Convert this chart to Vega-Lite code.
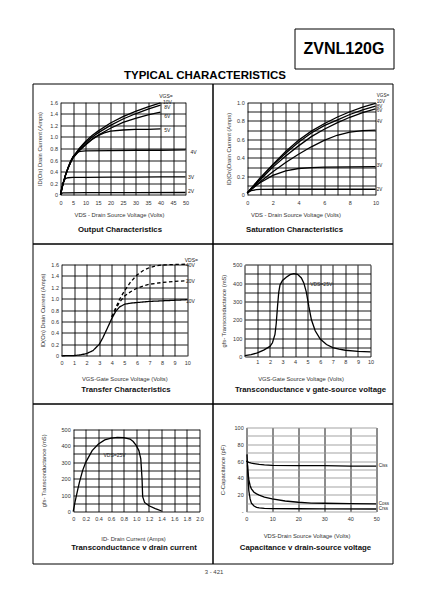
{
"$schema":"https://vega.github.io/schema/vega-lite/v6.json",
"background":"white",
"padding":{"left":31.5,"top":27.5,"right":0,"bottom":0},
"spacing":0,
"title":{"text":"3 - 421","orient":"bottom","anchor":"middle","offset":4.5,"fontSize":6,"fontWeight":"normal","color":"#444","dx":1},
"config":{
 "font":"Liberation Sans",
 "view":{"stroke":"black","strokeWidth":1},
 "concat":{"spacing":0},
 "axis":{"grid":true,"gridColor":"black","gridWidth":0.9,"gridOpacity":1,"domain":false,"ticks":false,"labelFontSize":5.5,"labelColor":"#333","labelFlush":false,"labelOverlap":false,"labelBound":false,"titleFontSize":5.8,"titleFontWeight":"normal","titleColor":"#333","labelPadding":3},
 "title":{"fontSize":7.8,"fontWeight":"bold","color":"#111"},
 "line":{"color":"black","strokeWidth":1.3}
},
"datasets":{
 "out":[
  {"vgs":"10V","vds":0,"id":0},{"vgs":"10V","vds":0.5,"id":0.1},{"vgs":"10V","vds":1,"id":0.19},{"vgs":"10V","vds":2,"id":0.34},{"vgs":"10V","vds":3,"id":0.46},{"vgs":"10V","vds":4,"id":0.56},{"vgs":"10V","vds":5,"id":0.65},{"vgs":"10V","vds":7.5,"id":0.8},{"vgs":"10V","vds":10,"id":0.92},{"vgs":"10V","vds":12.5,"id":1.02},{"vgs":"10V","vds":15,"id":1.1},{"vgs":"10V","vds":20,"id":1.24},{"vgs":"10V","vds":25,"id":1.35},{"vgs":"10V","vds":30,"id":1.44},{"vgs":"10V","vds":35,"id":1.52},{"vgs":"10V","vds":40,"id":1.59},
  {"vgs":"8V","vds":0,"id":0},{"vgs":"8V","vds":0.5,"id":0.1},{"vgs":"8V","vds":1,"id":0.19},{"vgs":"8V","vds":2,"id":0.34},{"vgs":"8V","vds":3,"id":0.46},{"vgs":"8V","vds":4,"id":0.56},{"vgs":"8V","vds":5,"id":0.65},{"vgs":"8V","vds":7.5,"id":0.79},{"vgs":"8V","vds":10,"id":0.9},{"vgs":"8V","vds":12.5,"id":0.99},{"vgs":"8V","vds":15,"id":1.07},{"vgs":"8V","vds":20,"id":1.2},{"vgs":"8V","vds":25,"id":1.31},{"vgs":"8V","vds":30,"id":1.4},{"vgs":"8V","vds":35,"id":1.48},{"vgs":"8V","vds":40,"id":1.55},
  {"vgs":"6V","vds":0,"id":0},{"vgs":"6V","vds":0.5,"id":0.1},{"vgs":"6V","vds":1,"id":0.19},{"vgs":"6V","vds":2,"id":0.34},{"vgs":"6V","vds":3,"id":0.46},{"vgs":"6V","vds":4,"id":0.56},{"vgs":"6V","vds":5,"id":0.64},{"vgs":"6V","vds":7.5,"id":0.77},{"vgs":"6V","vds":10,"id":0.87},{"vgs":"6V","vds":12.5,"id":0.96},{"vgs":"6V","vds":15,"id":1.03},{"vgs":"6V","vds":20,"id":1.15},{"vgs":"6V","vds":25,"id":1.25},{"vgs":"6V","vds":30,"id":1.32},{"vgs":"6V","vds":35,"id":1.38},{"vgs":"6V","vds":40,"id":1.43},
  {"vgs":"5V","vds":0,"id":0},{"vgs":"5V","vds":0.5,"id":0.1},{"vgs":"5V","vds":1,"id":0.19},{"vgs":"5V","vds":2,"id":0.34},{"vgs":"5V","vds":3,"id":0.46},{"vgs":"5V","vds":4,"id":0.56},{"vgs":"5V","vds":5,"id":0.64},{"vgs":"5V","vds":7.5,"id":0.76},{"vgs":"5V","vds":10,"id":0.86},{"vgs":"5V","vds":12.5,"id":0.95},{"vgs":"5V","vds":15,"id":1.02},{"vgs":"5V","vds":17.5,"id":1.07},{"vgs":"5V","vds":20,"id":1.1},{"vgs":"5V","vds":25,"id":1.12},{"vgs":"5V","vds":30,"id":1.13},{"vgs":"5V","vds":35,"id":1.13},{"vgs":"5V","vds":40,"id":1.14},
  {"vgs":"4V","vds":0,"id":0},{"vgs":"4V","vds":0.5,"id":0.1},{"vgs":"4V","vds":1,"id":0.19},{"vgs":"4V","vds":2,"id":0.34},{"vgs":"4V","vds":3,"id":0.47},{"vgs":"4V","vds":4,"id":0.58},{"vgs":"4V","vds":5,"id":0.66},{"vgs":"4V","vds":6,"id":0.71},{"vgs":"4V","vds":7,"id":0.74},{"vgs":"4V","vds":8,"id":0.75},{"vgs":"4V","vds":10,"id":0.76},{"vgs":"4V","vds":20,"id":0.765},{"vgs":"4V","vds":30,"id":0.77},{"vgs":"4V","vds":40,"id":0.77},{"vgs":"4V","vds":50,"id":0.775},
  {"vgs":"3V","vds":0,"id":0},{"vgs":"3V","vds":0.5,"id":0.12},{"vgs":"3V","vds":1,"id":0.2},{"vgs":"3V","vds":1.5,"id":0.25},{"vgs":"3V","vds":2,"id":0.28},{"vgs":"3V","vds":3,"id":0.295},{"vgs":"3V","vds":5,"id":0.3},{"vgs":"3V","vds":10,"id":0.302},{"vgs":"3V","vds":20,"id":0.304},{"vgs":"3V","vds":30,"id":0.306},{"vgs":"3V","vds":40,"id":0.308},{"vgs":"3V","vds":50,"id":0.31},
  {"vgs":"2V","vds":0,"id":0},{"vgs":"2V","vds":0.5,"id":0.025},{"vgs":"2V","vds":1,"id":0.032},{"vgs":"2V","vds":2,"id":0.034},{"vgs":"2V","vds":10,"id":0.036},{"vgs":"2V","vds":30,"id":0.038},{"vgs":"2V","vds":50,"id":0.04}
 ],
 "outLbl":[
  {"label":"VGS=","vds":39.5,"id":1.71},{"label":"10V","vds":41,"id":1.6},{"label":"8V","vds":41.5,"id":1.51},{"label":"6V","vds":41.5,"id":1.36},{"label":"5V","vds":41.5,"id":1.12},{"label":"4V","vds":52,"id":0.74},{"label":"3V","vds":51,"id":0.3},{"label":"2V","vds":51,"id":0.07}
 ],
 "sat":[
  {"vgs":"10V","vds":0,"id":0.02},{"vgs":"10V","vds":0.5,"id":0.1},{"vgs":"10V","vds":1,"id":0.18},{"vgs":"10V","vds":2,"id":0.33},{"vgs":"10V","vds":3,"id":0.47},{"vgs":"10V","vds":4,"id":0.59},{"vgs":"10V","vds":5,"id":0.69},{"vgs":"10V","vds":6,"id":0.77},{"vgs":"10V","vds":7,"id":0.84},{"vgs":"10V","vds":8,"id":0.9},{"vgs":"10V","vds":9,"id":0.95},{"vgs":"10V","vds":10,"id":0.99},
  {"vgs":"8V","vds":0,"id":0.02},{"vgs":"8V","vds":0.5,"id":0.1},{"vgs":"8V","vds":1,"id":0.18},{"vgs":"8V","vds":2,"id":0.32},{"vgs":"8V","vds":3,"id":0.45},{"vgs":"8V","vds":4,"id":0.57},{"vgs":"8V","vds":5,"id":0.67},{"vgs":"8V","vds":6,"id":0.75},{"vgs":"8V","vds":7,"id":0.81},{"vgs":"8V","vds":8,"id":0.87},{"vgs":"8V","vds":9,"id":0.92},{"vgs":"8V","vds":10,"id":0.96},
  {"vgs":"6V","vds":0,"id":0.02},{"vgs":"6V","vds":0.5,"id":0.09},{"vgs":"6V","vds":1,"id":0.16},{"vgs":"6V","vds":2,"id":0.3},{"vgs":"6V","vds":3,"id":0.42},{"vgs":"6V","vds":4,"id":0.53},{"vgs":"6V","vds":5,"id":0.63},{"vgs":"6V","vds":6,"id":0.71},{"vgs":"6V","vds":7,"id":0.78},{"vgs":"6V","vds":8,"id":0.84},{"vgs":"6V","vds":9,"id":0.89},{"vgs":"6V","vds":10,"id":0.93},
  {"vgs":"4V","vds":0,"id":0.02},{"vgs":"4V","vds":0.5,"id":0.08},{"vgs":"4V","vds":1,"id":0.14},{"vgs":"4V","vds":2,"id":0.25},{"vgs":"4V","vds":3,"id":0.35},{"vgs":"4V","vds":4,"id":0.44},{"vgs":"4V","vds":5,"id":0.52},{"vgs":"4V","vds":6,"id":0.59},{"vgs":"4V","vds":7,"id":0.645},{"vgs":"4V","vds":8,"id":0.68},{"vgs":"4V","vds":9,"id":0.695},{"vgs":"4V","vds":10,"id":0.7},
  {"vgs":"3V","vds":0,"id":0.02},{"vgs":"3V","vds":0.5,"id":0.08},{"vgs":"3V","vds":1,"id":0.13},{"vgs":"3V","vds":2,"id":0.21},{"vgs":"3V","vds":3,"id":0.26},{"vgs":"3V","vds":4,"id":0.285},{"vgs":"3V","vds":5,"id":0.295},{"vgs":"3V","vds":6,"id":0.3},{"vgs":"3V","vds":8,"id":0.303},{"vgs":"3V","vds":10,"id":0.305},
  {"vgs":"2V","vds":0,"id":0.02},{"vgs":"2V","vds":0.3,"id":0.045},{"vgs":"2V","vds":0.7,"id":0.055},{"vgs":"2V","vds":1,"id":0.058},{"vgs":"2V","vds":3,"id":0.06},{"vgs":"2V","vds":10,"id":0.06}
 ],
 "satLbl":[
  {"label":"VGS=","vds":10.1,"id":1.07},{"label":"10V","vds":10.1,"id":1.005},{"label":"8V","vds":10.1,"id":0.955},{"label":"6V","vds":10.1,"id":0.905},{"label":"4V","vds":10.1,"id":0.79},{"label":"3V","vds":10.1,"id":0.31},{"label":"2V","vds":10.1,"id":0.05}
 ],
 "trans":[
  {"vds":"10V","vgs":0,"id":0},{"vds":"10V","vgs":1,"id":0.005},{"vds":"10V","vgs":1.5,"id":0.015},{"vds":"10V","vgs":2,"id":0.04},{"vds":"10V","vgs":2.5,"id":0.09},{"vds":"10V","vgs":3,"id":0.2},{"vds":"10V","vgs":3.3,"id":0.32},{"vds":"10V","vgs":3.6,"id":0.46},{"vds":"10V","vgs":4,"id":0.65},{"vds":"10V","vgs":4.3,"id":0.77},{"vds":"10V","vgs":4.6,"id":0.85},{"vds":"10V","vgs":5,"id":0.9},{"vds":"10V","vgs":5.5,"id":0.92},{"vds":"10V","vgs":6,"id":0.93},{"vds":"10V","vgs":7,"id":0.95},{"vds":"10V","vgs":8,"id":0.96},{"vds":"10V","vgs":9,"id":0.97},{"vds":"10V","vgs":10,"id":0.98},
  {"vds":"20V","vgs":4,"id":0.68},{"vds":"20V","vgs":4.3,"id":0.81},{"vds":"20V","vgs":4.6,"id":0.93},{"vds":"20V","vgs":5,"id":1.04},{"vds":"20V","vgs":5.5,"id":1.12},{"vds":"20V","vgs":6,"id":1.18},{"vds":"20V","vgs":6.5,"id":1.22},{"vds":"20V","vgs":7,"id":1.25},{"vds":"20V","vgs":8,"id":1.28},{"vds":"20V","vgs":9,"id":1.3},{"vds":"20V","vgs":10,"id":1.31},
  {"vds":"40V","vgs":4,"id":0.68},{"vds":"40V","vgs":4.3,"id":0.83},{"vds":"40V","vgs":4.6,"id":0.98},{"vds":"40V","vgs":5,"id":1.13},{"vds":"40V","vgs":5.5,"id":1.29},{"vds":"40V","vgs":6,"id":1.41},{"vds":"40V","vgs":6.5,"id":1.49},{"vds":"40V","vgs":7,"id":1.54},{"vds":"40V","vgs":7.5,"id":1.57},{"vds":"40V","vgs":8,"id":1.585},{"vds":"40V","vgs":9,"id":1.595},{"vds":"40V","vgs":10,"id":1.6}
 ],
 "transLbl":[
  {"label":"VDS=","vgs":9.8,"id":1.68},{"label":"40V","vgs":9.9,"id":1.58},{"label":"20V","vgs":9.9,"id":1.3},{"label":"10V","vgs":9.9,"id":0.95}
 ],
 "gfsv":[
  {"vgs":0,"gfs":5},{"vgs":0.5,"gfs":10},{"vgs":1,"gfs":20},{"vgs":1.5,"gfs":35},{"vgs":2,"gfs":55},{"vgs":2.2,"gfs":75},{"vgs":2.4,"gfs":120},{"vgs":2.5,"gfs":180},{"vgs":2.6,"gfs":270},{"vgs":2.7,"gfs":350},{"vgs":2.8,"gfs":390},{"vgs":3,"gfs":415},{"vgs":3.3,"gfs":432},{"vgs":3.6,"gfs":446},{"vgs":3.9,"gfs":452},{"vgs":4.2,"gfs":448},{"vgs":4.5,"gfs":428},{"vgs":4.7,"gfs":400},{"vgs":4.9,"gfs":350},{"vgs":5.1,"gfs":270},{"vgs":5.3,"gfs":200},{"vgs":5.6,"gfs":140},{"vgs":6,"gfs":95},{"vgs":6.5,"gfs":65},{"vgs":7,"gfs":48},{"vgs":7.5,"gfs":40},{"vgs":8,"gfs":34},{"vgs":9,"gfs":28},{"vgs":10,"gfs":25}
 ],
 "gfsvLbl":[{"label":"VDS=25V","vgs":5.2,"gfs":394}],
 "gfsi":[
  {"id":0,"gfs":0},{"id":0.03,"gfs":60},{"id":0.07,"gfs":130},{"id":0.1,"gfs":180},{"id":0.15,"gfs":250},{"id":0.2,"gfs":300},{"id":0.3,"gfs":370},{"id":0.4,"gfs":410},{"id":0.5,"gfs":435},{"id":0.6,"gfs":446},{"id":0.7,"gfs":450},{"id":0.8,"gfs":449},{"id":0.9,"gfs":440},{"id":0.95,"gfs":425},{"id":1.0,"gfs":400},{"id":1.04,"gfs":370},{"id":1.07,"gfs":320},{"id":1.09,"gfs":200},{"id":1.1,"gfs":90},{"id":1.13,"gfs":55},{"id":1.2,"gfs":35},{"id":1.3,"gfs":18},{"id":1.4,"gfs":3}
 ],
 "gfsiLbl":[{"label":"VDS=25V","id":0.48,"gfs":345}],
 "cap":[
  {"s":"Ciss","vds":0,"c":60},{"s":"Ciss","vds":1,"c":58.5},{"s":"Ciss","vds":2,"c":57.5},{"s":"Ciss","vds":3,"c":57},{"s":"Ciss","vds":5,"c":56},{"s":"Ciss","vds":7,"c":55.5},{"s":"Ciss","vds":10,"c":55},{"s":"Ciss","vds":20,"c":54.5},{"s":"Ciss","vds":30,"c":54.5},{"s":"Ciss","vds":40,"c":54},{"s":"Ciss","vds":50,"c":54},
  {"s":"Coss","vds":0.3,"c":68},{"s":"Coss","vds":0.6,"c":50},{"s":"Coss","vds":1,"c":38},{"s":"Coss","vds":1.5,"c":31},{"s":"Coss","vds":2,"c":27},{"s":"Coss","vds":3,"c":23},{"s":"Coss","vds":4,"c":21},{"s":"Coss","vds":5,"c":19.5},{"s":"Coss","vds":7,"c":17},{"s":"Coss","vds":10,"c":15},{"s":"Coss","vds":15,"c":12.5},{"s":"Coss","vds":20,"c":11},{"s":"Coss","vds":25,"c":10},{"s":"Coss","vds":30,"c":9.8},{"s":"Coss","vds":40,"c":9.3},{"s":"Coss","vds":50,"c":9},
  {"s":"Crss","vds":0.5,"c":55},{"s":"Crss","vds":0.8,"c":35},{"s":"Crss","vds":1,"c":25},{"s":"Crss","vds":1.5,"c":15},{"s":"Crss","vds":2,"c":10},{"s":"Crss","vds":3,"c":6.5},{"s":"Crss","vds":4,"c":5},{"s":"Crss","vds":5,"c":4.3},{"s":"Crss","vds":7,"c":3.8},{"s":"Crss","vds":10,"c":3.5},{"s":"Crss","vds":20,"c":3.3},{"s":"Crss","vds":30,"c":3.2},{"s":"Crss","vds":50,"c":3}
 ],
 "capLbl":[{"label":"Ciss","vds":51,"c":54},{"label":"Coss","vds":51,"c":9.5},{"label":"Crss","vds":51,"c":3}]
},
"vconcat":[
 {"spacing":0,"hconcat":[
   {"width":261,"height":40,"view":{"stroke":null},"data":{"values":[]},"mark":"point"},
   {"width":99,"height":40,"view":{"stroke":"black","strokeWidth":1},"data":{"values":[{"t":"ZVNL120G"}]},"mark":{"type":"text","fontSize":16,"fontWeight":"bold","color":"black","align":"center","baseline":"middle"},"encoding":{"text":{"field":"t"}}}
 ]},
 {"title":{"text":"TYPICAL CHARACTERISTICS","anchor":"middle","fontSize":11.5,"fontWeight":"bold","color":"black","offset":2,"dx":-7.5},
  "columns":2,"spacing":0,"bounds":"flush",
  "concat":[
   {"width":180,"height":160,
    "title":{"text":"Output Characteristics","orient":"bottom","anchor":"middle","frame":"group","offset":-17.4,"baseline":"top","dx":-2.5},
    "resolve":{"axis":{"x":"independent"}},
    "encoding":{
     "y":{"field":"id","type":"quantitative","scale":{"domain":[0,1.6],"range":[111.3,18.7],"nice":false},"axis":{"offset":-28,"values":[0,0.2,0.4,0.6,0.8,1,1.2,1.4,1.6],"labelExpr":"datum.value === 0 ? '0' : format(datum.value, '.1f')","title":"ID(On) Drain Current (Amps)","titlePadding":7.2}}
    },
    "layer":[
     {"data":{"name":"out"},"mark":{"type":"line"},"encoding":{
       "x":{"field":"vds","type":"quantitative","scale":{"domain":[0,50],"range":[28,153],"nice":false,"zero":false},"axis":{"orient":"bottom","grid":false,"offset":-48.7,"values":[0,5,10,15,20,25,30,35,40,45,50],"title":"VDS - Drain Source Voltage (Volts)","labelPadding":6,"titlePadding":5.6,"titleX":86.5}},
       "detail":{"field":"vgs"}}},
     {"data":{"name":"outLbl"},"mark":{"type":"text","align":"left","baseline":"middle","fontSize":5,"color":"#222"},"encoding":{
       "x":{"field":"vds","type":"quantitative","scale":{"domain":[0,50],"range":[28,153],"nice":false,"zero":false},"axis":{"orient":"top","grid":true,"labels":false,"title":null,"values":[0,5,10,15,20,25,30,35,40,45,50]}},
       "text":{"field":"label"}}}
    ]},
   {"width":180,"height":160,
    "title":{"text":"Saturation Characteristics","orient":"bottom","anchor":"middle","frame":"group","offset":-17.4,"baseline":"top","dx":-8},
    "resolve":{"axis":{"x":"independent"}},
    "encoding":{
     "y":{"field":"id","type":"quantitative","scale":{"domain":[0,1],"range":[111.3,19],"nice":false},"axis":{"offset":-34.7,"values":[0,0.1,0.2,0.3,0.4,0.5,0.6,0.7,0.8,0.9,1],"labelExpr":"round(datum.value*10) % 2 === 0 ? (datum.value === 0 ? '0' : format(datum.value, '.1f')) : ''","title":"ID(On)Drain Current (Amps)","titlePadding":5.2}}
    },
    "layer":[
     {"data":{"name":"sat"},"mark":{"type":"line"},"encoding":{
       "x":{"field":"vds","type":"quantitative","scale":{"domain":[0,10],"range":[34.7,163],"nice":false,"zero":false},"axis":{"orient":"bottom","grid":false,"offset":-48.7,"values":[0,2,4,6,8,10],"title":"VDS - Drain Source Voltage (Volts)","labelPadding":6,"titlePadding":5.6,"titleX":83}},
       "detail":{"field":"vgs"}}},
     {"data":{"name":"satLbl"},"mark":{"type":"text","align":"left","baseline":"middle","fontSize":4.6,"color":"#222"},"encoding":{
       "x":{"field":"vds","type":"quantitative","scale":{"domain":[0,10],"range":[34.7,163],"nice":false,"zero":false},"axis":{"orient":"top","grid":true,"labels":false,"title":null,"values":[0,1,2,3,4,5,6,7,8,9,10]}},
       "text":{"field":"label"}}}
    ]},
   {"width":180,"height":160,
    "title":{"text":"Transfer Characteristics","orient":"bottom","anchor":"middle","frame":"group","offset":-17.4,"baseline":"top","dx":3.5},
    "resolve":{"axis":{"x":"independent"}},
    "encoding":{
     "y":{"field":"id","type":"quantitative","scale":{"domain":[0,1.6],"range":[112.3,20.7],"nice":false},"axis":{"offset":-29,"values":[0,0.2,0.4,0.6,0.8,1,1.2,1.4,1.6],"labelExpr":"datum.value === 0 ? '0' : format(datum.value, '.1f')","title":"ID(On) Drain Current  (Amps)","titlePadding":5.8}}
    },
    "layer":[
     {"data":{"name":"trans"},"mark":{"type":"line"},"encoding":{
       "x":{"field":"vgs","type":"quantitative","scale":{"domain":[0,10],"range":[29,154.7],"nice":false,"zero":false},"axis":{"orient":"bottom","grid":false,"offset":-47.7,"values":[0,1,2,3,4,5,6,7,8,9,10],"title":"VGS-Gate Source Voltage (Volts)","labelPadding":5,"titlePadding":8.8}},
       "strokeDash":{"field":"vds","type":"nominal","scale":{"domain":["10V","20V","40V"],"range":[[1,0],[3.5,2.5],[3.5,2.5]]},"legend":null}}},
     {"data":{"name":"transLbl"},"mark":{"type":"text","align":"left","baseline":"middle","fontSize":5,"color":"#222"},"encoding":{
       "x":{"field":"vgs","type":"quantitative","scale":{"domain":[0,10],"range":[29,154.7],"nice":false,"zero":false},"axis":{"orient":"top","grid":true,"labels":false,"title":null,"values":[0,1,2,3,4,5,6,7,8,9,10]}},
       "text":{"field":"label"}}}
    ]},
   {"width":180,"height":160,
    "title":{"text":"Transconductance v gate-source voltage","orient":"bottom","anchor":"middle","frame":"group","offset":-17.4,"baseline":"top","dx":8},
    "resolve":{"axis":{"x":"independent"}},
    "encoding":{
     "y":{"field":"gfs","type":"quantitative","scale":{"domain":[0,500],"range":[113,21.3],"nice":false},"axis":{"offset":-32.3,"values":[0,50,100,150,200,250,300,350,400,450,500],"labelExpr":"datum.value % 100 === 0 ? datum.label : ''","title":"gfs- Transconductance (mS)","titlePadding":5.9}}
    },
    "layer":[
     {"data":{"name":"gfsv"},"mark":{"type":"line"},"encoding":{
       "x":{"field":"vgs","type":"quantitative","scale":{"domain":[0,10],"range":[32.3,158],"nice":false,"zero":false},"axis":{"orient":"bottom","grid":false,"offset":-47,"values":[1,2,3,4,5,6,7,8,9,10],"title":"VGS-Gate Source Voltage  (Volts)","labelPadding":3,"titlePadding":10.3,"titleX":88}}}},
     {"data":{"name":"gfsvLbl"},"mark":{"type":"text","align":"left","baseline":"middle","fontSize":5,"color":"#222"},"encoding":{
       "x":{"field":"vgs","type":"quantitative","scale":{"domain":[0,10],"range":[32.3,158],"nice":false,"zero":false},"axis":{"orient":"top","grid":true,"labels":false,"title":null,"values":[0,1,2,3,4,5,6,7,8,9,10]}},
       "text":{"field":"label"}}}
    ]},
   {"width":180,"height":160,
    "title":{"text":"Transconductance v drain current","orient":"bottom","anchor":"middle","frame":"group","offset":-19.4,"baseline":"top","dx":11.5},
    "resolve":{"axis":{"x":"independent"}},
    "encoding":{
     "y":{"field":"gfs","type":"quantitative","scale":{"domain":[0,500],"range":[108,25.7],"nice":false},"axis":{"offset":-40.7,"values":[0,50,100,150,200,250,300,350,400,450,500],"labelExpr":"datum.value % 100 === 0 ? datum.label : ''","title":"gfs- Transconductance (mS)","titlePadding":14.3}}
    },
    "layer":[
     {"data":{"name":"gfsi"},"mark":{"type":"line"},"encoding":{
       "x":{"field":"id","type":"quantitative","scale":{"domain":[0,2],"range":[40.7,167],"nice":false,"zero":false},"axis":{"orient":"bottom","grid":false,"offset":-52,"values":[0,0.2,0.4,0.6,0.8,1,1.2,1.4,1.6,1.8,2],"labelExpr":"datum.value === 0 ? '0' : format(datum.value, '.1f')","title":"ID- Drain Current (Amps)","labelPadding":5,"titlePadding":13.3,"titleX":100.5}}}},
     {"data":{"name":"gfsiLbl"},"mark":{"type":"text","align":"left","baseline":"middle","fontSize":5,"color":"#222"},"encoding":{
       "x":{"field":"id","type":"quantitative","scale":{"domain":[0,2],"range":[40.7,167],"nice":false,"zero":false},"axis":{"orient":"top","grid":true,"labels":false,"title":null,"values":[0,0.2,0.4,0.6,0.8,1,1.2,1.4,1.6,1.8,2]}},
       "text":{"field":"label"}}}
    ]},
   {"width":180,"height":160,
    "title":{"text":"Capacitance v drain-source voltage","orient":"bottom","anchor":"middle","frame":"group","offset":-19.4,"baseline":"top","dx":3},
    "resolve":{"axis":{"x":"independent"}},
    "encoding":{
     "y":{"field":"c","type":"quantitative","scale":{"domain":[0,100],"range":[108,24],"nice":false},"axis":{"offset":-33.7,"values":[0,10,20,30,40,50,60,70,80,90,100],"labelExpr":"datum.value === 0 ? '-' : (datum.value % 20 === 0 ? datum.label : '')","gridColor":"#999","title":"C-Capacitance (pF)","titlePadding":8.9}}
    },
    "layer":[
     {"data":{"name":"cap"},"mark":{"type":"line"},"encoding":{
       "x":{"field":"vds","type":"quantitative","scale":{"domain":[0,50],"range":[33.7,163.7],"nice":false,"zero":false},"axis":{"orient":"bottom","grid":false,"offset":-52,"values":[0,10,20,30,40,50],"title":"VDS-Drain Source Voltage (Volts)","labelPadding":5,"titlePadding":10.3,"titleX":94}},
       "detail":{"field":"s"}}},
     {"data":{"name":"capLbl"},"mark":{"type":"text","align":"left","baseline":"middle","fontSize":4.5,"color":"#222"},"encoding":{
       "x":{"field":"vds","type":"quantitative","scale":{"domain":[0,50],"range":[33.7,163.7],"nice":false,"zero":false},"axis":{"orient":"top","grid":true,"labels":false,"title":null,"values":[0,10,20,30,40,50]}},
       "text":{"field":"label"}}}
    ]}
  ]}
]
}
